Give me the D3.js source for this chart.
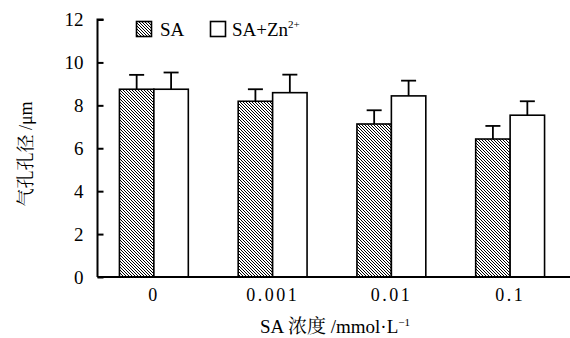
<!DOCTYPE html>
<html>
<head>
<meta charset="utf-8">
<script src="https://cdn.jsdelivr.net/npm/d3@7"></script>
<style>
  body { margin: 0; background: #fff; }
</style>
</head>
<body>
<div id="chart"></div>
<script>
// data
var categories = ["0", "0.001", "0.01", "0.1"];
var series = ["SA", "SA+Zn"];
var saValues = [8.75, 8.19, 7.13, 6.43];
var saErrors = [0.67, 0.56, 0.64, 0.61];
var znValues = [8.75, 8.59, 8.44, 7.54];
var znErrors = [0.78, 0.84, 0.71, 0.65];
var yTicks = [0, 2, 4, 6, 8, 10, 12];

var width = 570;
var height = 338;
var latin = "Liberation Serif";
var cjk = "Noto Serif CJK SC";

var rows = [];
categories.forEach(function(c, i) {
  rows.push({cat: c, key: "SA", v: saValues[i], e: saErrors[i]});
  rows.push({cat: c, key: "SA+Zn", v: znValues[i], e: znErrors[i]});
});

var svg = d3.select("#chart")
  .append("svg")
  .attr("width", width)
  .attr("height", height);

// hatch for SA bars
var pat = svg.append("defs").append("pattern")
  .attr("id", "hatch")
  .attr("patternUnits", "userSpaceOnUse")
  .attr("width", 3)
  .attr("height", 3);
pat.append("rect").attr("width", 3).attr("height", 3).attr("fill", "#fff");
pat.append("path")
  .attr("d", "M-1,-1L4,4M-1,2L1,4M2,-1L4,1")
  .attr("stroke", "#000")
  .attr("stroke-width", 1.0);

var xScale = d3.scaleBand()
  .domain(categories)
  .range([94.5, 569.5])
  .paddingInner(0.42)
  .paddingOuter(0.21);

var xInner = d3.scaleBand()
  .domain(series)
  .range([0, xScale.bandwidth()]);

var yScale = d3.scaleLinear()
  .domain([0, 12])
  .range([277, 19.5]);

var fill = {"SA": "url(#hatch)", "SA+Zn": "#fff"};

var bars = svg.append("g");

bars.selectAll("rect")
  .data(rows)
  .enter()
  .append("rect")
  .attr("x", d => xScale(d.cat) + xInner(d.key))
  .attr("y", d => yScale(d.v))
  .attr("width", xInner.bandwidth())
  .attr("height", d => yScale(0) - yScale(d.v))
  .attr("fill", d => fill[d.key])
  .attr("stroke", "#000")
  .attr("stroke-width", 1.6);

// error bars
var err = svg.append("g").attr("stroke", "#000").attr("stroke-width", 1.8);
err.selectAll("line.v")
  .data(rows)
  .enter()
  .append("line")
  .attr("class", "v")
  .attr("x1", d => xScale(d.cat) + xInner(d.key) + xInner.bandwidth() / 2)
  .attr("x2", d => xScale(d.cat) + xInner(d.key) + xInner.bandwidth() / 2)
  .attr("y1", d => yScale(d.v))
  .attr("y2", d => yScale(d.v + d.e));
err.selectAll("line.cap")
  .data(rows)
  .enter()
  .append("line")
  .attr("class", "cap")
  .attr("x1", d => xScale(d.cat) + xInner(d.key) + xInner.bandwidth() / 2 - 7.5)
  .attr("x2", d => xScale(d.cat) + xInner(d.key) + xInner.bandwidth() / 2 + 7.5)
  .attr("y1", d => yScale(d.v + d.e))
  .attr("y2", d => yScale(d.v + d.e));

// y axis, ticks pointing inward
var yAxis = d3.axisRight(yScale)
  .tickValues(yTicks)
  .tickSize(6);

var gy = svg.append("g")
  .attr("transform", "translate(97.5,0)")
  .call(yAxis)
  .attr("font-family", latin)
  .attr("font-size", 19);
gy.select(".domain").attr("stroke-width", 2).attr("d", "M6,19.5H0V277");
gy.selectAll(".tick line").attr("stroke-width", 2);
gy.selectAll(".tick text")
  .attr("text-anchor", "end")
  .attr("x", -14);

// x axis
var xAxis = d3.axisBottom(xScale).tickSize(0).tickPadding(11);
var gx = svg.append("g")
  .attr("transform", "translate(0,277)")
  .call(xAxis)
  .attr("font-family", latin)
  .attr("font-size", 18);
gx.select(".domain").attr("stroke-width", 2).attr("d", "M97.5,0H570");
gx.selectAll(".tick text")
  .attr("letter-spacing", 2.5);

// axis titles
var xt = svg.append("text")
  .attr("x", 335)
  .attr("y", 333)
  .attr("text-anchor", "middle")
  .attr("font-family", latin)
  .attr("font-size", 19);
xt.append("tspan").text("SA ");
xt.append("tspan").attr("font-family", cjk).text("浓度");
xt.append("tspan").text(" /mmol·L");
xt.append("tspan").attr("dy", -7).attr("font-size", 11).text("−1");

var yt = svg.append("text")
  .attr("transform", "translate(32,154) rotate(-90)")
  .attr("text-anchor", "middle")
  .attr("font-family", latin)
  .attr("font-size", 18);
yt.append("tspan").attr("font-family", cjk).text("气孔孔径");
yt.append("tspan").text(" /μm");

// legend
var legend = svg.append("g");
legend.append("rect")
  .attr("x", 136.5).attr("y", 21.5).attr("width", 15).attr("height", 15)
  .attr("fill", "url(#hatch)").attr("stroke", "#000").attr("stroke-width", 1.6);
legend.append("text")
  .attr("x", 160).attr("y", 36)
  .attr("font-family", latin)
  .attr("font-size", 19)
  .text("SA");
legend.append("rect")
  .attr("x", 210.5).attr("y", 21.5).attr("width", 15).attr("height", 15)
  .attr("fill", "#fff").attr("stroke", "#000").attr("stroke-width", 1.6);
var lt = legend.append("text")
  .attr("x", 232).attr("y", 36)
  .attr("font-family", latin)
  .attr("font-size", 19);
lt.append("tspan").text("SA+Zn");
lt.append("tspan").attr("dy", -8).attr("font-size", 11).text("2+");
</script>
</body>
</html>
